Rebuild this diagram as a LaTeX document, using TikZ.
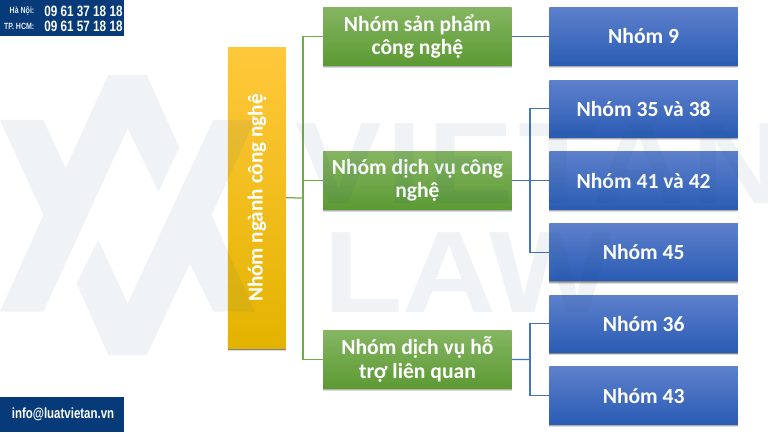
\documentclass[tikz,border=0pt]{standalone}
\usepackage{fontspec}
\setmainfont{Carlito}
\newfontfamily\cond[FakeStretch=0.78]{Liberation Sans}
\newfontfamily\wmark[FakeStretch=1.12]{Liberation Sans}
\usetikzlibrary{shadows}
\definecolor{navy}{HTML}{063A78}
\definecolor{wm}{HTML}{204F80}
\definecolor{green1}{HTML}{85B561}
\definecolor{green2}{HTML}{6DB13F}
\definecolor{green3}{HTML}{5C9A34}
\definecolor{blue1}{HTML}{5E80CC}
\definecolor{blue2}{HTML}{3A6CC5}
\definecolor{blue3}{HTML}{2A5CB4}
\definecolor{yel1}{HTML}{FFC83C}
\definecolor{yel2}{HTML}{FFC000}
\definecolor{yel3}{HTML}{E4B300}
\definecolor{gl}{HTML}{70AD47}
\definecolor{bl}{HTML}{4472C4}
\tikzset{
  box/.style={anchor=north west,inner sep=0pt,align=center,text=white,font=\bfseries\fontsize{21.6}{23.5}\selectfont,
    drop shadow={shadow xshift=0pt,shadow yshift=-2.6pt,opacity=.14,fill=black},
    drop shadow={shadow xshift=0pt,shadow yshift=-1.8pt,opacity=.2,fill=black},
    drop shadow={shadow xshift=0pt,shadow yshift=-1pt,opacity=.25,fill=black}},
  greenbox/.style={box,minimum width=188.5pt,minimum height=57.3pt,top color=green1,middle color=green2,bottom color=green3},
  bluebox/.style={box,minimum width=188.5pt,minimum height=57.3pt,top color=blue1,middle color=blue2,bottom color=blue3},
  yellowbox/.style={box,minimum width=58pt,minimum height=301.5pt,top color=yel1,middle color=yel2,bottom color=yel3},
  gline/.style={draw=gl,line width=1.25pt},
  bline/.style={draw=bl,line width=1.25pt},
  panel/.style={fill=navy,draw=none},
  wmshape/.style={fill=wm,fill opacity=.065,draw=none},
  wmtext/.style={anchor=base west,inner sep=0pt,text=wm,text opacity=.065},
  phone/.style={inner sep=0pt,text=white,font=\cond\bfseries\fontsize{15}{15}\selectfont},
  city/.style={inner sep=0pt,anchor=east,text=white!90!navy,font=\cond\bfseries\fontsize{9}{9}\selectfont}
}
\begin{document}
\begin{tikzpicture}[x=1pt,y=-1pt]
\useasboundingbox (0,0) rectangle (768,432);
\fill[white] (0,0) rectangle (768,432);

\coordinate (trunk) at (303,198);
\coordinate (busA) at (530,180.5);
\coordinate (busB) at (530,359.5);

\node[yellowbox] (yel) at (227.6,46.8) {};
\node[inner sep=0pt,rotate=90,text=white,font=\bfseries\fontsize{21.2}{23.5}\selectfont] (yeltext) at (257,198) {Nhóm ngành công nghệ};

\node[greenbox] (g1) at (323,7.6) {Nhóm sản phẩm\\công nghệ};
\node[greenbox] (g2) at (323,151.7) {Nhóm dịch vụ công\\nghệ};
\node[greenbox] (g3) at (323,330.7) {Nhóm dịch vụ hỗ\\trợ liên quan};

\node[bluebox] (b1) at (549.2,7.6) {Nhóm 9};
\node[bluebox] (b2) at (549.2,79.9) {Nhóm 35 và 38};
\node[bluebox] (b3) at (549.2,151.7) {Nhóm 41 và 42};
\node[bluebox] (b4) at (549.2,223.4) {Nhóm 45};
\node[bluebox] (b5) at (549.2,295) {Nhóm 36};
\node[bluebox] (b6) at (549.2,366.7) {Nhóm 43};

\draw[gline] (yel.east) -- (trunk);
\draw[gline] (trunk) |- (g1.west);
\draw[gline] (trunk) |- (g2.west);
\draw[gline] (trunk) |- (g3.west);
\draw[bline] (g1.east) -- (b1.west);
\draw[bline] (g2.east) -- (b3.west);
\draw[bline] (busA) |- (b2.west);
\draw[bline] (busA) |- (b4.west);
\draw[bline] (g3.east) -- (busB);
\draw[bline] (busB) |- (b5.west);
\draw[bline] (busB) |- (b6.west);

% watermark logo
\begin{scope}[shift={(0,65)},x=0.3333pt,y=-0.3333pt]
\fill[wmshape] (0,165) -- (130,165) -- (197,310) -- (325,30) -- (440,30) -- (538,248) -- (475,380) -- (383,190) -- (130,740) -- (0,740) -- (130,450) -- cycle;
\fill[wmshape] (295,525) -- (383,715) -- (640,165) -- (765,165) -- (635,450) -- (765,740) -- (640,740) -- (570,595) -- (440,870) -- (325,870) -- (230,655) -- cycle;
\end{scope}
\node[wmtext,font=\wmark\bfseries\fontsize{116}{116}\selectfont] (wmvn) at (295,203) {\addfontfeature{LetterSpace=4}VIETAN};
\node[wmtext,font=\wmark\bfseries\fontsize{116}{116}\selectfont] (wmlaw) at (323,312) {LAW};

% corner panels
\fill[panel] (0,0) rectangle (124.4,36);
\fill[panel] (0,397.3) rectangle (124.4,432);
\node[city] (hn) at (34.5,11.3) {Hà Nội:};
\node[city] (hcm) at (34.5,26.8) {TP. HCM:};
\node[phone] (p1) at (83.5,11) {09 61 37 18 18};
\node[phone] (p2) at (83.5,26) {09 61 57 18 18};
\node[inner sep=0pt,text=white,font=\cond\bfseries\fontsize{14.7}{15}\selectfont] (mail) at (63,414.5) {info@luatvietan.vn};
\end{tikzpicture}
\end{document}
